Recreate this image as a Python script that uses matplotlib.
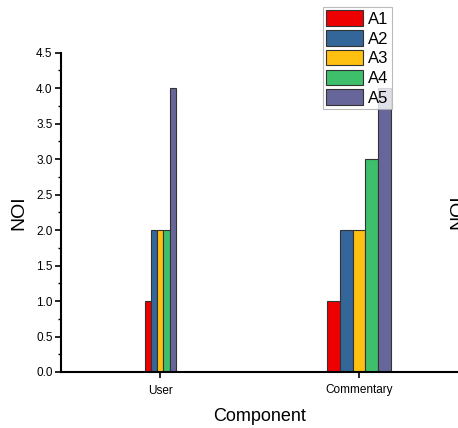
import matplotlib
matplotlib.use("Agg")
import matplotlib.pyplot as plt
import numpy as np
from matplotlib.ticker import MultipleLocator, FormatStrFormatter

plt.rcParams['font.family'] = ['Liberation Sans', 'DejaVu Sans']

# data
components = ['User', 'Commentary']
series = ['A1', 'A2', 'A3', 'A4', 'A5']
values = {
    'A1': [1.0, 1.0],
    'A2': [2.0, 2.0],
    'A3': [2.0, 2.0],
    'A4': [2.0, 3.0],
    'A5': [4.0, 4.0],
}
colors = ['#EE0000', '#336699', '#FFC111', '#3DBF6C', '#66669A']
group_width = [0.155, 0.32]   # bars in the 'User' group are drawn narrower

fig = plt.figure(figsize=(4.58, 4.28), dpi=100)
ax = fig.add_axes([61 / 458, 1 - 372 / 428, 397.5 / 458, (372 - 52.7) / 428])

x = np.arange(1, len(components) + 1)
for i, s in enumerate(series):
    for j, xc in enumerate(x):
        w = group_width[j] / len(series)
        pos = xc - group_width[j] / 2 + w * (i + 0.5)
        ax.bar(pos, values[s][j], width=w, color=colors[i], edgecolor='#333333',
               linewidth=0.8, label=s if j == 0 else None, zorder=2)

ax.set_xlim(0.5, 2.5)
ax.set_ylim(0, 4.5)
ax.set_xticks(x)
ax.set_xticklabels(components, fontsize=8.5)
ax.yaxis.set_major_locator(MultipleLocator(0.5))
ax.yaxis.set_minor_locator(MultipleLocator(0.25))
ax.yaxis.set_major_formatter(FormatStrFormatter('%.1f'))
ax.tick_params(axis='y', labelsize=8.5)
ax.tick_params(axis='both', which='major', direction='out', length=4, width=1.2, pad=2)
ax.tick_params(axis='x', which='major', pad=5)
ax.tick_params(axis='y', which='minor', direction='out', length=2, width=1.0)
for side in ['top', 'right']:
    ax.spines[side].set_visible(False)
for side in ['left', 'bottom']:
    ax.spines[side].set_linewidth(1.5)

ax.set_ylabel('NOI', fontsize=14, labelpad=6)
ax.set_xlabel('Component', fontsize=13, labelpad=8)

leg = fig.legend(loc='upper left', bbox_to_anchor=(323 / 458, 1 - 7 / 428), fontsize=12,
                 handlelength=2.2, handleheight=1.05, labelspacing=0.2, handletextpad=0.3,
                 borderpad=0.2, borderaxespad=0, fancybox=False, frameon=True)
leg.get_frame().set_edgecolor('#aaaaaa')
leg.get_frame().set_linewidth(0.8)
leg.set_zorder(5)

# partial label of the neighbouring panel
fig.text(449 / 458, 1 - 212 / 428, 'NOI', rotation=90, fontsize=14, ha='left', va='center')

fig.savefig('out.png', dpi=100)
